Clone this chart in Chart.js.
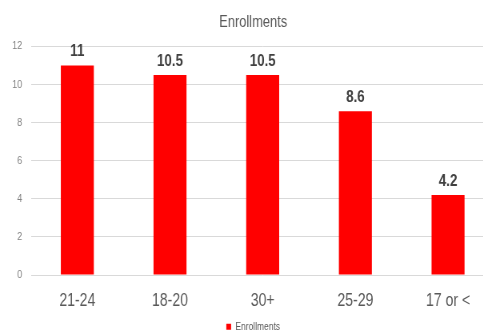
<!DOCTYPE html>
<html>
<head>
<meta charset="utf-8">
<script src="https://cdn.jsdelivr.net/npm/chart.js@4"></script>
<style>
  html, body { margin: 0; padding: 0; background: #fff; overflow: hidden; }
  #wrap { width: 483px; height: 331px; overflow: hidden; }
</style>
</head>
<body>
<div id="wrap">
  <!-- drawn at 640 wide, shown at 512 wide: gives the tall, narrow lettering -->
  <canvas id="chart" width="640" height="331" style="width:512px;height:331px"></canvas>
</div>
<script>
const ageGroups = ['21-24', '18-20', '30+', '25-29', '17 or <'];
const enrollments = [11, 10.5, 10.5, 8.6, 4.2];
const yTicks = [0, 2, 4, 6, 8, 10, 12];

const FONT = '"Liberation Sans", Arial, sans-serif';

// value labels above each bar
const barLabels = {
    id: 'barLabels',
    afterDatasetsDraw(chart) {
        const ctx = chart.ctx;
        const meta = chart.getDatasetMeta(0);
        ctx.save();
        ctx.fillStyle = '#404040';
        ctx.font = 'bold 16.7px ' + FONT;
        ctx.textAlign = 'center';
        ctx.textBaseline = 'alphabetic';
        meta.data.forEach((bar, i) => {
            ctx.fillText(String(enrollments[i]), bar.x, bar.y - 9);
        });
        ctx.restore();
    }
};

new Chart(document.getElementById('chart'), {
    type: 'bar',
    data: {
        labels: ageGroups,
        datasets: [{
            label: 'Enrollments',
            data: enrollments,
            backgroundColor: '#ff0000',
            borderWidth: 0,
            barPercentage: 0.356,
            categoryPercentage: 1
        }]
    },
    options: {
        responsive: false,
        animation: false,
        layout: { padding: { left: 15, right: 22, top: 0, bottom: -11 } },
        plugins: {
            tooltip: { enabled: false },
            title: {
                display: true,
                text: 'Enrollments',
                color: '#595959',
                font: { family: FONT, size: 16.1, weight: 'normal' },
                padding: { top: 13, bottom: 14 }
            },
            legend: {
                position: 'bottom',
                labels: {
                    color: '#595959',
                    font: { family: FONT, size: 10.6 },
                    boxWidth: 6,
                    boxHeight: 6,
                    padding: 0
                }
            }
        },
        scales: {
            x: {
                afterFit: (scale) => { scale.height = 46.3; },
                grid: { display: false, drawTicks: false },
                border: { display: false },
                ticks: {
                    color: '#595959',
                    font: { family: FONT, size: 17.6 },
                    padding: 15.4
                }
            },
            y: {
                min: 0,
                max: 12,
                afterBuildTicks: (scale) => { scale.ticks = yTicks.map(v => ({ value: v })); },
                afterFit: (scale) => { scale.width = 23.75; },
                grid: { color: '#d9d9d9', lineWidth: 1, drawTicks: false },
                border: { display: false },
                ticks: {
                    color: '#808080',
                    font: { family: FONT, size: 11.2 },
                    padding: 11
                }
            }
        }
    },
    plugins: [barLabels]
});
</script>
</body>
</html>
